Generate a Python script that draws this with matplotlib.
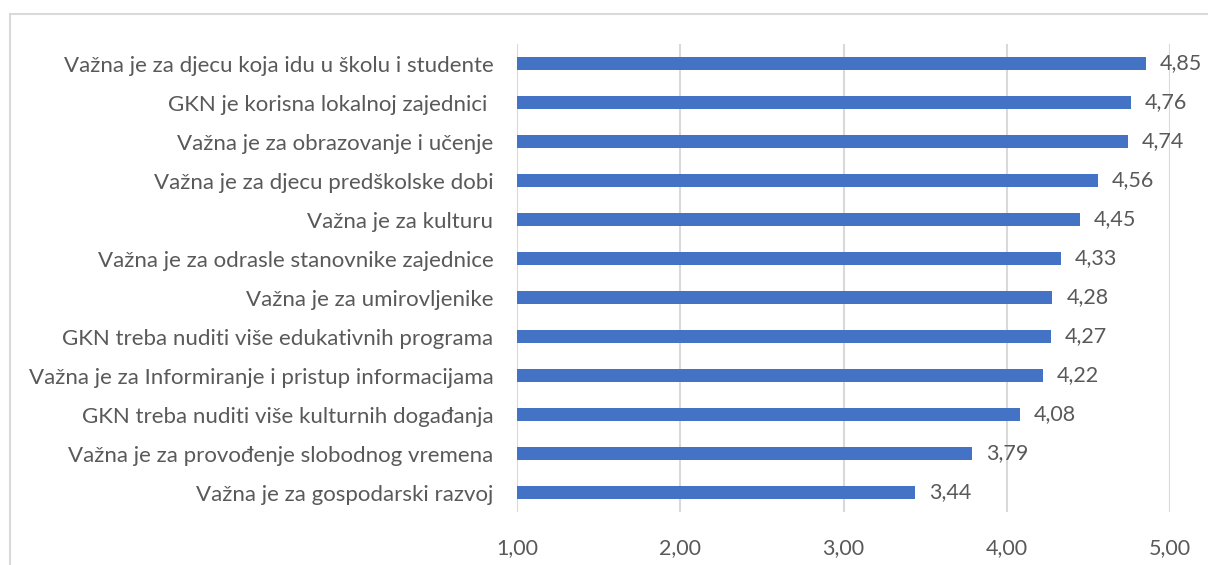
import matplotlib.pyplot as plt
from matplotlib.patches import Rectangle

kategorije = [
    "Važna je za djecu koja idu u školu i studente",
    "GKN je korisna lokalnoj zajednici ",
    "Važna je za obrazovanje i učenje",
    "Važna je za djecu predškolske dobi",
    "Važna je za kulturu",
    "Važna je za odrasle stanovnike zajednice",
    "Važna je za umirovljenike",
    "GKN treba nuditi više edukativnih programa",
    "Važna je za Informiranje i pristup informacijama",
    "GKN treba nuditi više kulturnih događanja",
    "Važna je za provođenje slobodnog vremena",
    "Važna je za gospodarski razvoj",
]
vrijednosti = [4.85, 4.76, 4.74, 4.56, 4.45, 4.33, 4.28, 4.27, 4.22, 4.08, 3.79, 3.44]
x_ticks = [1, 2, 3, 4, 5]

plt.rcParams['font.family'] = ['Lato', 'DejaVu Sans']
tekst_boja = '#595959'
siva = '#d9d9d9'

fig = plt.figure(figsize=(12.08, 5.65), dpi=100)
ax = fig.add_axes([517 / 1208, 1 - 512 / 565, (1170 - 517) / 1208, (512 - 44) / 565])

# okvir grafikona (kao u Excelu)
fig.patches.append(Rectangle((9.5 / 1208, -0.1), 1.2, 1 - 13.5 / 565 + 0.1,
                             transform=fig.transFigure, fill=False,
                             edgecolor=siva, linewidth=1.5))

pozicije = list(range(len(kategorije)))
ax.barh(pozicije, [v - 1 for v in vrijednosti], left=1, height=1 / 3,
        color='#4472C4', zorder=3)

for p, v in zip(pozicije, vrijednosti):
    ax.text(v + 0.085, p, f"{v:.2f}".replace('.', ','), va='center', ha='left',
            fontsize=15.5, color=tekst_boja)

ax.set_xlim(1, 5)
ax.set_ylim(len(kategorije) - 0.5, -0.5)
ax.set_xticks(x_ticks)
ax.set_xticklabels([f"{t:.2f}".replace('.', ',') for t in x_ticks])
ax.set_yticks(pozicije)
ax.set_yticklabels(kategorije)
ax.tick_params(axis='both', length=0, labelsize=15.5, colors=tekst_boja)
ax.tick_params(axis='y', pad=17, labelsize=16)
ax.tick_params(axis='x', pad=19)
ax.grid(axis='x', color=siva, linewidth=1.5, zorder=0)
for s in ax.spines.values():
    s.set_visible(False)

fig.savefig('out.png', dpi=100)
